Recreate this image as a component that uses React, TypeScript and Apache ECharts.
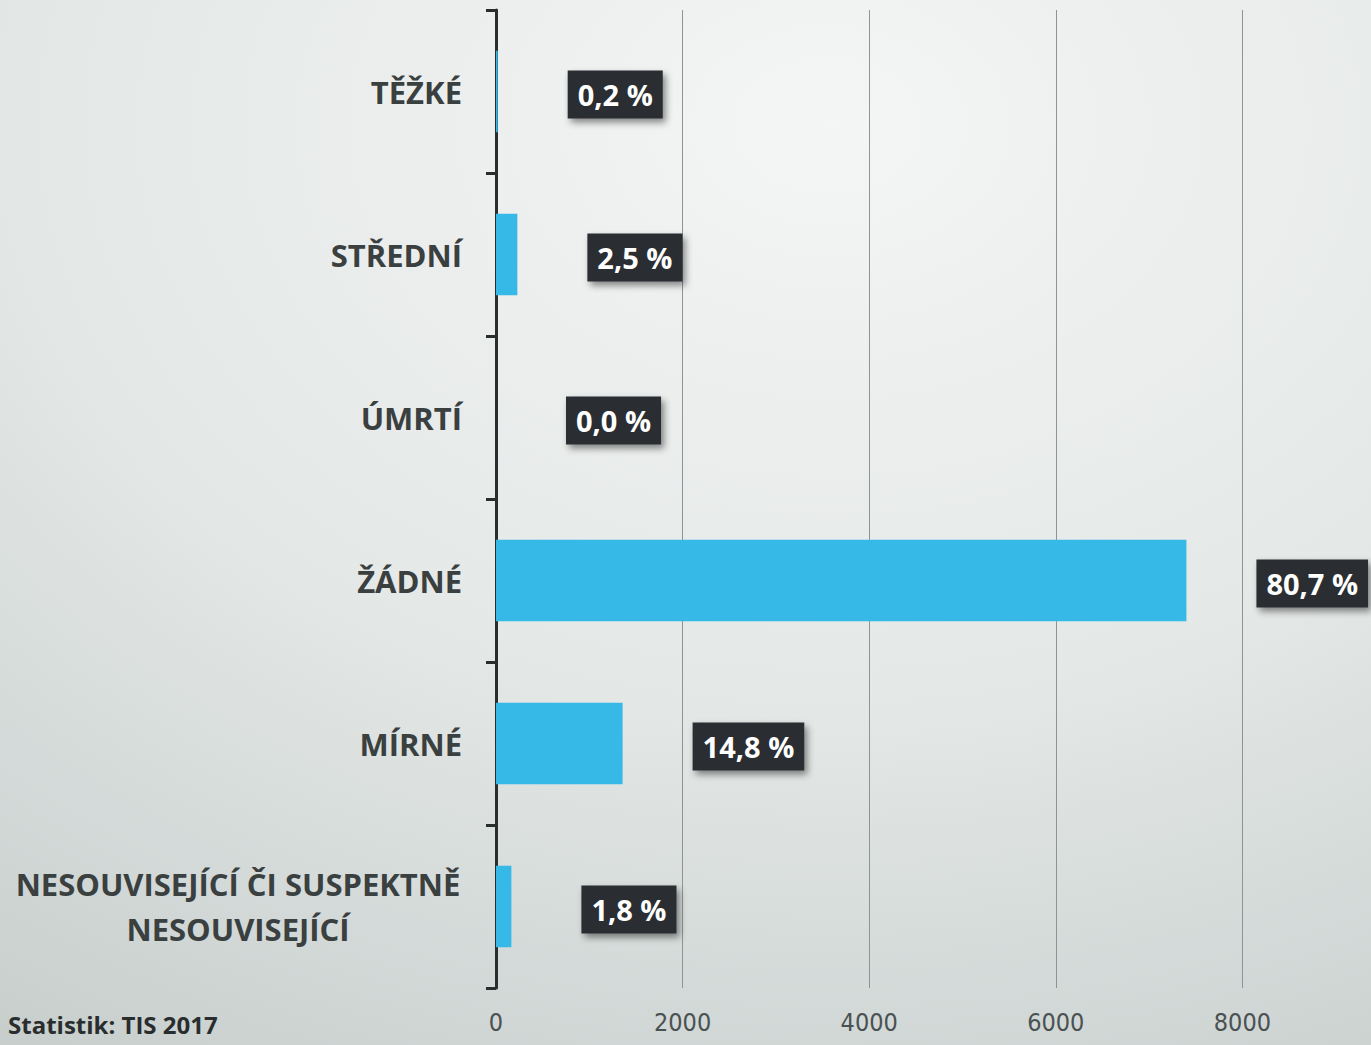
import React, { useEffect, useRef } from "react";
import * as echarts from "echarts";

const categories = [
  "TĚŽKÉ",
  "STŘEDNÍ",
  "ÚMRTÍ",
  "ŽÁDNÉ",
  "MÍRNÉ",
  "NESOUVISEJÍCÍ ČI SUSPEKTNĚ\nNESOUVISEJÍCÍ",
];
const values = [18, 229, 0, 7400, 1357, 165];
const percentLabels = ["0,2 %", "2,5 %", "0,0 %", "80,7 %", "14,8 %", "1,8 %"];
const xTicks = [0, 2000, 4000, 6000, 8000, 10000];
const sourceText = "Statistik: TIS 2017";

export default function App() {
  const ref = useRef<HTMLDivElement>(null);
  useEffect(() => {
    if (!ref.current) return;
    const chart = echarts.init(ref.current, undefined, { renderer: "svg" });
    chart.setOption({
      animation: false,
      backgroundColor: {
        type: "radial",
        x: 0.58,
        y: 0.12,
        r: 1.1,
        colorStops: [
          { offset: 0, color: "#f4f5f5" },
          { offset: 0.5, color: "#e4e8e7" },
          { offset: 1, color: "#c4ccca" },
        ],
      },
      grid: { left: 496, right: 0, top: 10, bottom: 57, containLabel: false },
      xAxis: {
        type: "value",
        min: xTicks[0],
        max: xTicks[xTicks.length - 1],
        interval: 2000,
        axisLine: { show: false },
        axisTick: { show: false },
        splitLine: { show: true, lineStyle: { color: "#8e9494", width: 1 } },
        axisLabel: {
          margin: 22,
          color: "#4a5152",
          fontFamily: "'Liberation Sans Narrow', 'DejaVu Sans Condensed', 'Liberation Sans', sans-serif",
          fontSize: 25,
          showMaxLabel: false,
          formatter: (v: number) => String(v),
        },
      },
      yAxis: {
        type: "category",
        data: categories,
        inverse: true,
        axisLine: { show: true, lineStyle: { color: "#2a2d2e", width: 3 } },
        axisTick: { show: true, length: 10, lineStyle: { color: "#2a2d2e", width: 3 } },
        splitLine: { show: false },
        axisLabel: {
          margin: 34,
          color: "#3a3f40",
          fontFamily: "'Open Sans', sans-serif",
          fontWeight: "bold",
          fontSize: 31,
          formatter: (v: string) => {
            if (v.indexOf("\n") >= 0) {
              return v
                .split("\n")
                .map((l) => "{w|" + l + "}")
                .join("\n");
            }
            return v;
          },
          rich: {
            w: {
              width: 448,
              align: "center",
              color: "#3a3f40",
              fontFamily: "'Open Sans', sans-serif",
              fontWeight: "bold",
              fontSize: 31,
              lineHeight: 45,
            },
          },
        },
      },
      series: [
        {
          type: "bar",
          data: values,
          barWidth: "50%",
          itemStyle: { color: "#36b9e7" },
          label: {
            show: true,
            position: "right",
            distance: 70,
            offset: [0, 3],
            formatter: (p: any) => percentLabels[p.dataIndex],
            color: "#ffffff",
            fontFamily: "'Open Sans', sans-serif",
            fontWeight: "bold",
            fontSize: 29,
            backgroundColor: "#2b2f30",
            padding: [11, 10, 8, 10],
            shadowColor: "rgba(0,0,0,0.45)",
            shadowBlur: 7,
            shadowOffsetX: 3,
            shadowOffsetY: 4,
          },
        },
      ],
      graphic: [
        {
          type: "text",
          left: 8,
          top: 1012,
          style: {
            text: sourceText,
            fill: "#2a2d2e",
            font: "bold 24px 'Open Sans', sans-serif",
          },
        },
      ],
    });
    return () => chart.dispose();
  }, []);
  return (
    <div
      style={{ position: "absolute", left: 0, top: 0, width: 1371, height: 1045, overflow: "hidden" }}
    >
      <div ref={ref} style={{ width: 1429, height: 1045 }} />
    </div>
  );
}
